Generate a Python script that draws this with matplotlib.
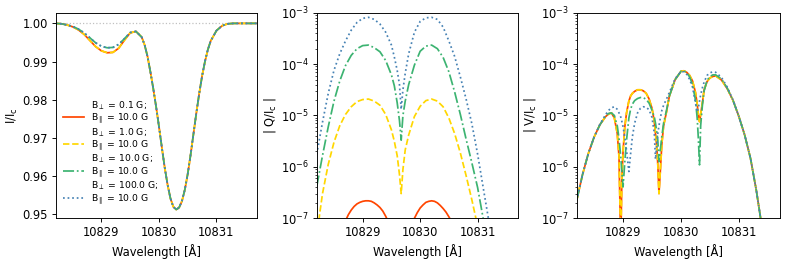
import numpy as np
import matplotlib
matplotlib.use("Agg")
import matplotlib.pyplot as plt
from matplotlib.offsetbox import TextArea

# sizes scaled to the smaller output canvas
s = 0.83
plt.rcParams.update({
    "font.size": 10 * s,
    "lines.linewidth": 1.5 * s,
    "axes.linewidth": 0.8 * s,
    "xtick.major.size": 3.5 * s, "ytick.major.size": 3.5 * s,
    "xtick.major.width": 0.8 * s, "ytick.major.width": 0.8 * s,
    "ytick.minor.size": 2 * s, "ytick.minor.width": 0.6 * s,
    "xtick.major.pad": 3.5 * s, "ytick.major.pad": 3.5 * s,
    "axes.labelpad": 4 * s,
})

# === DATA ===
labels = ["B$_\\perp$ = 0.1 G;\nB$_\\parallel$ = 10.0 G",
          "B$_\\perp$ = 1.0 G;\nB$_\\parallel$ = 10.0 G",
          "B$_\\perp$ = 10.0 G;\nB$_\\parallel$ = 10.0 G",
          "B$_\\perp$ = 100.0 G;\nB$_\\parallel$ = 10.0 G"]
colors = ["orangered", "gold", "mediumseagreen", "steelblue"]
styles = ["-", "--", "-.", ":"]

# Stokes I / Ic
wl_i = [10828.2, 10828.3, 10828.4, 10828.5, 10828.6, 10828.7, 10828.8, 10828.9,
        10829.0, 10829.1, 10829.2, 10829.3, 10829.4, 10829.5, 10829.6, 10829.7,
        10829.75, 10829.8, 10829.85, 10829.9, 10829.95, 10830.0, 10830.05, 10830.1,
        10830.15, 10830.2, 10830.25, 10830.3, 10830.35, 10830.4, 10830.45, 10830.5,
        10830.55, 10830.6, 10830.65, 10830.7, 10830.75, 10830.8, 10830.85, 10830.9,
        10831.0, 10831.1, 10831.2, 10831.3, 10831.4, 10831.5, 10831.6, 10831.7]
i_b01 = [1.0000, 0.9999, 0.9996, 0.9991, 0.9983, 0.9971, 0.9955, 0.9939,
         0.9928, 0.9923, 0.9924, 0.9935, 0.9956, 0.9975, 0.9979, 0.9964,
         0.9944, 0.9914, 0.9874, 0.9830, 0.9782, 0.9730, 0.9675, 0.9622,
         0.9577, 0.9541, 0.9519, 0.9512, 0.9517, 0.9534, 0.9564, 0.9605,
         0.9655, 0.9710, 0.9765, 0.9816, 0.9862, 0.9900, 0.9931, 0.9954,
         0.9981, 0.9994, 0.9999, 1.0000, 1.0000, 1.0000, 1.0000, 1.0000]
i_b1 = i_b01  # overlaps the 0.1 G curve
i_b10 = [1.0000, 0.9999, 0.9996, 0.9992, 0.9985, 0.9975, 0.9962, 0.9949,
         0.9940, 0.9936, 0.9937, 0.9945, 0.9960, 0.9976, 0.9979, 0.9964,
         0.9944, 0.9914, 0.9874, 0.9830, 0.9782, 0.9730, 0.9675, 0.9622,
         0.9577, 0.9541, 0.9519, 0.9512, 0.9517, 0.9534, 0.9564, 0.9605,
         0.9655, 0.9710, 0.9765, 0.9816, 0.9862, 0.9900, 0.9931, 0.9954,
         0.9981, 0.9994, 0.9999, 1.0000, 1.0000, 1.0000, 1.0000, 1.0000]
i_b100 = i_b10  # overlaps the 10 G curve

# |Q/Ic|, stored as log10
wl_q = [10828.20, 10828.25, 10828.30, 10828.40, 10828.50, 10828.60, 10828.70, 10828.80,
        10828.90, 10829.00, 10829.10, 10829.20, 10829.30, 10829.40, 10829.50, 10829.55,
        10829.60, 10829.64, 10829.67, 10829.70, 10829.74, 10829.80, 10829.90, 10830.00,
        10830.10, 10830.20, 10830.30, 10830.40, 10830.50, 10830.60, 10830.70, 10830.80,
        10830.90, 10831.00, 10831.10, 10831.20, 10831.30]
q_b1 = [-7.40, -6.92, -6.52, -5.95, -5.52, -5.20, -4.98, -4.83,
        -4.73, -4.69, -4.68, -4.72, -4.80, -4.98, -5.28, -5.50,
        -5.78, -6.15, -6.52, -6.05, -5.67, -5.38, -5.02, -4.82,
        -4.71, -4.68, -4.72, -4.83, -5.05, -5.35, -5.73, -6.17,
        -6.64, -7.15, -7.70, -8.30, -9.00]
q_b10 = [-6.38, -6.08, -5.78, -5.22, -4.72, -4.33, -4.03, -3.83,
         -3.70, -3.64, -3.63, -3.68, -3.76, -3.93, -4.21, -4.42,
         -4.75, -5.10, -5.48, -5.00, -4.72, -4.40, -4.02, -3.75,
         -3.65, -3.63, -3.70, -3.87, -4.15, -4.54, -4.98, -5.46,
         -5.92, -6.40, -7.02, -7.60, -8.20]
q_b100 = [-5.75, -5.44, -5.13, -4.57, -4.12, -3.80, -3.55, -3.34,
          -3.19, -3.11, -3.09, -3.13, -3.22, -3.38, -3.63, -3.86,
          -4.12, -4.40, -4.88, -4.50, -4.18, -3.80, -3.38, -3.17,
          -3.10, -3.09, -3.13, -3.28, -3.55, -3.85, -4.25, -4.68,
          -5.16, -5.75, -6.42, -7.08, -7.80]
wl_q01 = [10828.70, 10828.75, 10828.80, 10828.85, 10828.90, 10828.95, 10829.00, 10829.05,
          10829.10, 10829.15, 10829.20, 10829.25, 10829.30, 10829.35, 10829.40, 10829.45,
          10829.50, 10829.55, 10829.60, 10829.65, 10829.70, 10829.75, 10829.80, 10829.85,
          10829.90, 10829.95, 10830.00, 10830.05, 10830.10, 10830.15, 10830.20, 10830.25,
          10830.30, 10830.35, 10830.40, 10830.45, 10830.50, 10830.55]
q_b01 = [-7.05, -6.93, -6.84, -6.77, -6.72, -6.69, -6.67, -6.66,
         -6.66, -6.67, -6.70, -6.74, -6.79, -6.86, -6.96, -7.08,
         -7.26, -7.48, -7.76, -8.30, -8.03, -7.62, -7.36, -7.16,
         -7.00, -6.89, -6.80, -6.74, -6.69, -6.67, -6.66, -6.67,
         -6.70, -6.75, -6.81, -6.88, -6.97, -7.07]

# |V/Ic|, stored as log10
wl_v = [10828.20, 10828.30, 10828.40, 10828.50, 10828.60, 10828.70, 10828.75, 10828.80,
        10828.85, 10828.90, 10828.93, 10828.96, 10828.98, 10829.00, 10829.03, 10829.06,
        10829.10, 10829.13, 10829.16, 10829.20, 10829.25, 10829.30, 10829.35, 10829.40,
        10829.45, 10829.50, 10829.54, 10829.56, 10829.58, 10829.60, 10829.62, 10829.64,
        10829.67, 10829.70, 10829.75, 10829.80, 10829.90, 10830.00, 10830.05, 10830.10,
        10830.15, 10830.20, 10830.25, 10830.28, 10830.30, 10830.32, 10830.34, 10830.37,
        10830.40, 10830.45, 10830.50, 10830.55, 10830.60, 10830.70, 10830.80, 10830.90,
        10831.00, 10831.10, 10831.20, 10831.30, 10831.40, 10831.50]
v_b01 = [-6.65, -6.15, -5.74, -5.42, -5.18, -5.02, -4.97, -4.95,
         -5.05, -5.35, -5.80, -7.50, -6.20, -5.70, -5.22, -4.95,
         -4.72, -4.62, -4.57, -4.53, -4.50, -4.50, -4.52, -4.57,
         -4.68, -4.86, -5.12, -5.35, -5.58, -5.95, -6.52, -6.15,
         -5.55, -5.20, -4.93, -4.62, -4.30, -4.14, -4.13, -4.16,
         -4.22, -4.33, -4.55, -4.78, -4.98, -5.12, -4.98, -4.75,
         -4.50, -4.34, -4.27, -4.24, -4.23, -4.31, -4.48, -4.71,
         -5.02, -5.38, -5.83, -6.45, -7.18, -8.00]
v_b1 = v_b01  # overlaps the 0.1 G curve
v_b10 = [-6.65, -6.15, -5.74, -5.42, -5.18, -5.01, -4.96, -4.95,
         -5.00, -5.20, -5.45, -5.80, -6.10, -6.39, -5.90, -5.48,
         -5.05, -4.88, -4.78, -4.71, -4.67, -4.65, -4.65, -4.69,
         -4.76, -4.90, -5.03, -5.15, -5.30, -5.48, -5.90, -5.70,
         -5.40, -5.15, -4.90, -4.62, -4.30, -4.14, -4.13, -4.17,
         -4.25, -4.40, -4.70, -5.05, -5.45, -5.96, -5.20, -4.80,
         -4.52, -4.32, -4.24, -4.21, -4.21, -4.29, -4.47, -4.71,
         -5.02, -5.38, -5.83, -6.45, -7.18, -8.00]
v_b100 = [-6.65, -6.15, -5.74, -5.42, -5.17, -4.98, -4.90, -4.85,
          -4.83, -4.88, -4.95, -5.03, -5.12, -5.22, -5.42, -5.68,
          -6.09, -5.75, -5.42, -5.15, -4.95, -4.86, -4.83, -4.84,
          -4.89, -5.04, -5.35, -5.85, -5.60, -5.35, -5.20, -5.07,
          -4.90, -4.80, -4.68, -4.55, -4.28, -4.15, -4.15, -4.20,
          -4.30, -4.45, -4.75, -4.93, -4.85, -4.72, -4.60, -4.46,
          -4.35, -4.22, -4.17, -4.15, -4.16, -4.26, -4.45, -4.70,
          -5.02, -5.38, -5.83, -6.45, -7.18, -8.00]

xlim = (10828.21, 10831.71)

fig = plt.figure(figsize=(7.89, 2.63), dpi=100)
ax1 = fig.add_axes([0.0710, 0.170, 0.2551, 0.7817])
ax2 = fig.add_axes([0.4022, 0.170, 0.2548, 0.7817])
ax3 = fig.add_axes([0.7317, 0.170, 0.2569, 0.7817])

# 1) intensity
ax1.axhline(1.0, color="silver", ls=":", lw=0.9, zorder=0)
for y, c, ls, lab in zip([i_b01, i_b1, i_b10, i_b100], colors, styles, labels):
    ax1.plot(wl_i, y, color=c, ls=ls, label=lab)
ax1.set_ylim(0.9489, 1.0028)
ax1.set_yticks([0.95, 0.96, 0.97, 0.98, 0.99, 1.00])
ax1.set_yticklabels(["0.95", "0.96", "0.97", "0.98", "0.99", "1.00"])
ax1.set_ylabel("I/I$_\\mathrm{c}$", labelpad=2)
leg = ax1.legend(loc="lower left", bbox_to_anchor=(0.0, 0.02), frameon=False,
                 fontsize=6.7, handlelength=2.2, handletextpad=0.8,
                 labelspacing=0.0, borderaxespad=0.4)
for t in leg.get_texts():
    t.set_linespacing(0.95)
# handles sit level with the second text line, as in the reference
for col in leg._legend_handle_box.get_children():
    for item in col.get_children():
        for child in item.get_children():
            if isinstance(child, TextArea):
                child._multilinebaseline = False

# 2) linear polarisation
qs = [(wl_q01, q_b01), (wl_q, q_b1), (wl_q, q_b10), (wl_q, q_b100)]
for (x, y), c, ls in zip(qs, colors, styles):
    ax2.plot(x, 10.0 ** np.array(y), color=c, ls=ls)
ax2.set_yscale("log")
ax2.set_ylim(1e-7, 1e-3)
ax2.set_ylabel("| Q/I$_\\mathrm{c}$ |", labelpad=2)

# 3) circular polarisation
for y, c, ls in zip([v_b01, v_b1, v_b10, v_b100], colors, styles):
    ax3.plot(wl_v, 10.0 ** np.array(y), color=c, ls=ls)
ax3.set_yscale("log")
ax3.set_ylim(1e-7, 1e-3)
ax3.set_ylabel("| V/I$_\\mathrm{c}$ |", labelpad=2)

for ax in (ax1, ax2, ax3):
    ax.set_xlim(*xlim)
    ax.set_xticks([10829, 10830, 10831])
    ax.set_xticklabels(["10829", "10830", "10831"])
    ax.set_xlabel("Wavelength [Å]")

fig.savefig("out.png", dpi=100)
